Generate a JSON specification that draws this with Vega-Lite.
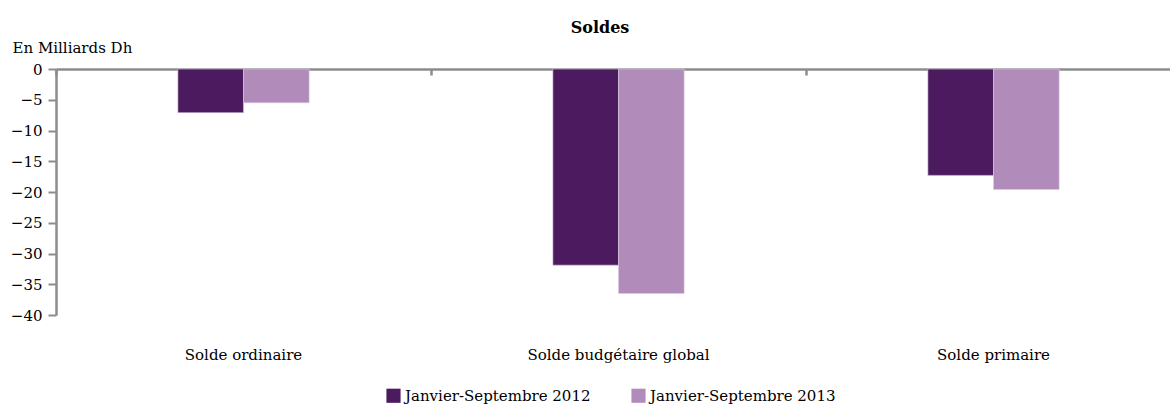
{
  "$schema": "https://vega.github.io/schema/vega-lite/v6.json",
  "autosize": "none",
  "width": 1114,
  "height": 246,
  "padding": {"left": 56, "top": 69, "right": 0, "bottom": 92},
  "background": "white",
  "config": {
    "font": "DejaVu Serif",
    "view": {"stroke": null}
  },
  "title": {
    "text": "Soldes",
    "font": "DejaVu Serif",
    "fontSize": 16,
    "fontWeight": "bold",
    "color": "#000000",
    "anchor": "middle",
    "dx": -13,
    "offset": 4
  },
  "data": {
    "values": [
      {"solde": "Solde ordinaire", "periode": "Janvier-Septembre 2012", "valeur": -7.1},
      {"solde": "Solde ordinaire", "periode": "Janvier-Septembre 2013", "valeur": -5.5},
      {"solde": "Solde budgétaire global", "periode": "Janvier-Septembre 2012", "valeur": -31.9},
      {"solde": "Solde budgétaire global", "periode": "Janvier-Septembre 2013", "valeur": -36.5},
      {"solde": "Solde primaire", "periode": "Janvier-Septembre 2012", "valeur": -17.3},
      {"solde": "Solde primaire", "periode": "Janvier-Septembre 2013", "valeur": -19.6}
    ]
  },
  "layer": [
    {
      "mark": {"type": "bar", "stroke": "#d9cde0", "strokeWidth": 0.6},
      "encoding": {
        "x": {
          "field": "solde",
          "type": "nominal",
          "sort": ["Solde ordinaire", "Solde budgétaire global", "Solde primaire"],
          "scale": {"range": [0, 1125], "paddingInner": 0.65, "paddingOuter": 0.325},
          "axis": {
            "orient": "bottom",
            "title": null,
            "domain": false,
            "ticks": false,
            "labelAngle": 0,
            "labelPadding": 32,
            "labelLimit": 400,
            "labelFont": "DejaVu Serif",
            "labelFontSize": 15,
            "labelColor": "#000000"
          }
        },
        "xOffset": {
          "field": "periode",
          "type": "nominal",
          "scale": {"paddingInner": 0, "paddingOuter": 0}
        },
        "y": {
          "field": "valeur",
          "type": "quantitative",
          "scale": {"domain": [-40, 0], "nice": false},
          "axis": {
            "values": [0, -5, -10, -15, -20, -25, -30, -35, -40],
            "grid": false,
            "domainColor": "#8c8c8c",
            "domainWidth": 2.5,
            "tickColor": "#8c8c8c",
            "tickWidth": 2,
            "tickSize": 8,
            "labelPadding": 6,
            "labelFont": "DejaVu Serif",
            "labelFontSize": 15,
            "labelColor": "#000000",
            "title": "En Milliards Dh",
            "titleAngle": 0,
            "titleAlign": "left",
            "titleBaseline": "middle",
            "titleX": -44,
            "titleY": -22,
            "titleFont": "DejaVu Serif",
            "titleFontSize": 15,
            "titleFontWeight": "normal",
            "titleColor": "#000000"
          }
        },
        "color": {
          "field": "periode",
          "type": "nominal",
          "scale": {
            "domain": ["Janvier-Septembre 2012", "Janvier-Septembre 2013"],
            "range": ["#4B1A5F", "#B18BBA"]
          },
          "legend": {
            "orient": "none",
            "legendX": 330,
            "legendY": 319,
            "direction": "horizontal",
            "title": null,
            "symbolType": "square",
            "symbolSize": 200,
            "symbolStrokeWidth": 0,
            "labelFont": "DejaVu Serif",
            "labelFontSize": 15,
            "labelColor": "#000000",
            "labelLimit": 400,
            "columnPadding": 40,
            "labelOffset": 4
          }
        }
      }
    },
    {
      "mark": {"type": "rule", "strokeOpacity": 0},
      "encoding": {
        "x": {
          "datum": 0,
          "type": "quantitative",
          "scale": {"domain": [0, 3], "range": [0, 1125], "nice": false, "zero": false},
          "axis": {
            "orient": "bottom",
            "offset": -246,
            "title": null,
            "labels": false,
            "values": [0, 1, 2, 3],
            "tickSize": 6,
            "tickWidth": 2.5,
            "tickColor": "#8c8c8c",
            "domainColor": "#8c8c8c",
            "domainWidth": 2.5
          }
        }
      }
    }
  ],
  "resolve": {"scale": {"x": "independent"}, "axis": {"x": "independent"}}
}
